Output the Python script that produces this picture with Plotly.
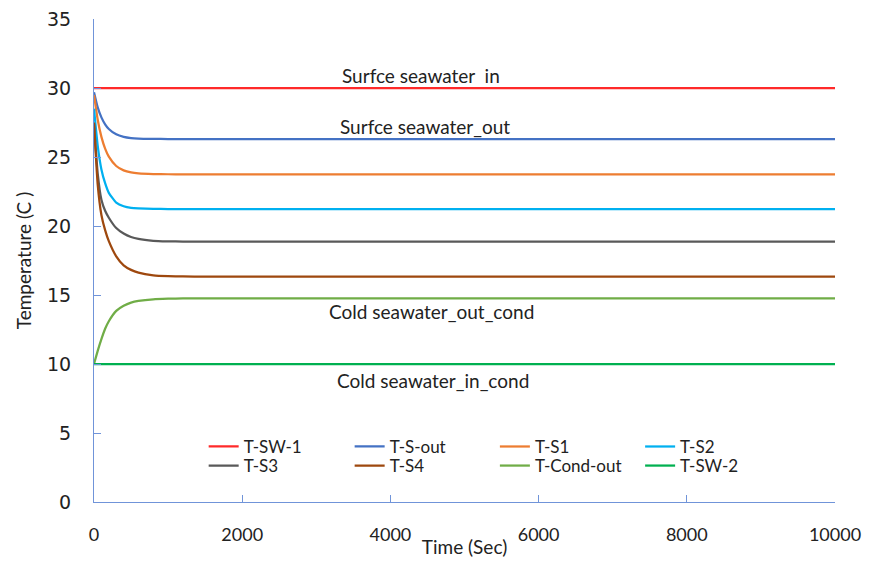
import plotly.graph_objects as go

time_s = [0, 50, 100, 150, 200, 300, 400, 500, 600, 800, 1000, 1200, 1500, 2000, 4000, 6000, 8000, 10000]

t_sw_1 = [30.0] * 18
t_s_out = [29.7, 28.6, 27.87, 27.37, 27.03, 26.64, 26.46, 26.37, 26.33, 26.31, 26.3, 26.3, 26.3, 26.3, 26.3, 26.3, 26.3, 26.3]
t_s1 = [29.5, 27.7, 26.46, 25.61, 25.03, 24.35, 24.03, 23.88, 23.81, 23.76, 23.75, 23.75, 23.75, 23.75, 23.75, 23.75, 23.75, 23.75]
t_s2 = [28.5, 25.8, 24.1, 23.1, 22.4, 21.7, 21.43, 21.31, 21.27, 21.24, 21.23, 21.23, 21.23, 21.23, 21.23, 21.23, 21.23, 21.23]
t_s3 = [27.4, 23.8, 21.9, 21.1, 20.6, 19.85, 19.45, 19.2, 19.06, 18.93, 18.89, 18.87, 18.86, 18.86, 18.86, 18.86, 18.86, 18.86]
t_s4 = [27.5, 23.0, 20.8, 19.7, 18.9, 17.8, 17.15, 16.82, 16.62, 16.43, 16.37, 16.35, 16.33, 16.33, 16.33, 16.33, 16.33, 16.33]
t_cond_out = [10.0, 10.95, 11.8, 12.55, 13.1, 13.85, 14.22, 14.45, 14.57, 14.69, 14.73, 14.75, 14.76, 14.76, 14.76, 14.76, 14.76, 14.76]
t_sw_2 = [10.0] * 18

series = [
    ("T-SW-1", t_sw_1, "#FF2A2A"),
    ("T-S-out", t_s_out, "#4472C4"),
    ("T-S1", t_s1, "#ED7D31"),
    ("T-S2", t_s2, "#00B0F0"),
    ("T-S3", t_s3, "#595959"),
    ("T-S4", t_s4, "#9E480E"),
    ("T-Cond-out", t_cond_out, "#70AD47"),
    ("T-SW-2", t_sw_2, "#00B050"),
]

labels = [
    ("Surfce seawater  in", 30.0),
    ("Surfce seawater_out", 26.3),
    ("Cold seawater_out_cond", 14.76),
    ("Cold seawater_in_cond", 10.0),
]
label_x = [4413, 4467, 4561, 4575]
label_dy = [13, 13, -13, -16]

x_ticks = [0, 2000, 4000, 6000, 8000, 10000]
x_tick_text = ["0", "2000", "4000", "6000", "8000", "10000"]
y_ticks = [0, 5, 10, 15, 20, 25, 30, 35]

# legend grid: 4 columns x 2 rows (paper coordinates)
legend_cols = [0.148, 0.345, 0.541, 0.737]
legend_rows = [0.114, 0.0745]

fig = go.Figure()
legend_layout = {}
for i, (name, vals, col) in enumerate(series):
    key = "legend" if i == 0 else f"legend{i + 1}"
    fig.add_trace(go.Scatter(x=time_s, y=vals, name=name, mode="lines", legend=key,
                             line=dict(color=col, width=2.25, shape="spline", smoothing=0.5)))
    legend_layout[key] = dict(
        x=legend_cols[i % 4], y=legend_rows[i // 4], xanchor="left", yanchor="middle",
        font=dict(family="Lato", size=17, color="#222222"),
        bgcolor="rgba(0,0,0,0)", itemwidth=30, borderwidth=0,
    )

for (txt, yv), xv, dy in zip(labels, label_x, label_dy):
    fig.add_annotation(x=xv, y=yv, text=txt, showarrow=False, yshift=dy,
                       font=dict(family="Lato", size=19, color="#222222"))

axis_col = "#7094D9"
fig.update_layout(
    width=855, height=550,
    margin=dict(l=86, r=28, t=11, b=56),
    paper_bgcolor="white", plot_bgcolor="white",
    font=dict(family="Lato", color="#222222"),
    xaxis=dict(range=[0, 10000], tickvals=x_ticks, ticktext=x_tick_text,
               showgrid=False, zeroline=False, automargin=False,
               showline=True, linecolor=axis_col, linewidth=1.2,
               ticks="inside", ticklen=7, tickcolor=axis_col,
               tickfont=dict(family="Lato", size=18, color="#222222"),
               ticklabelstandoff=16, ticklabeloverflow="allow",
               title=dict(text="Time (Sec)", font=dict(family="Lato", size=19), standoff=0)),
    yaxis=dict(range=[0, 35], tickvals=y_ticks, showgrid=False, zeroline=False, automargin=False,
               showline=True, linecolor=axis_col, linewidth=1.2,
               ticks="inside", ticklen=7, tickcolor=axis_col,
               tickfont=dict(family="DejaVu Sans", size=19, color="#222222"),
               ticklabelstandoff=18, ticklabeloverflow="allow",
               title=dict(text="Temperature (C )", font=dict(family="Lato", size=19), standoff=10)),
    showlegend=True,
    **legend_layout,
)

fig.write_html("out.html")
